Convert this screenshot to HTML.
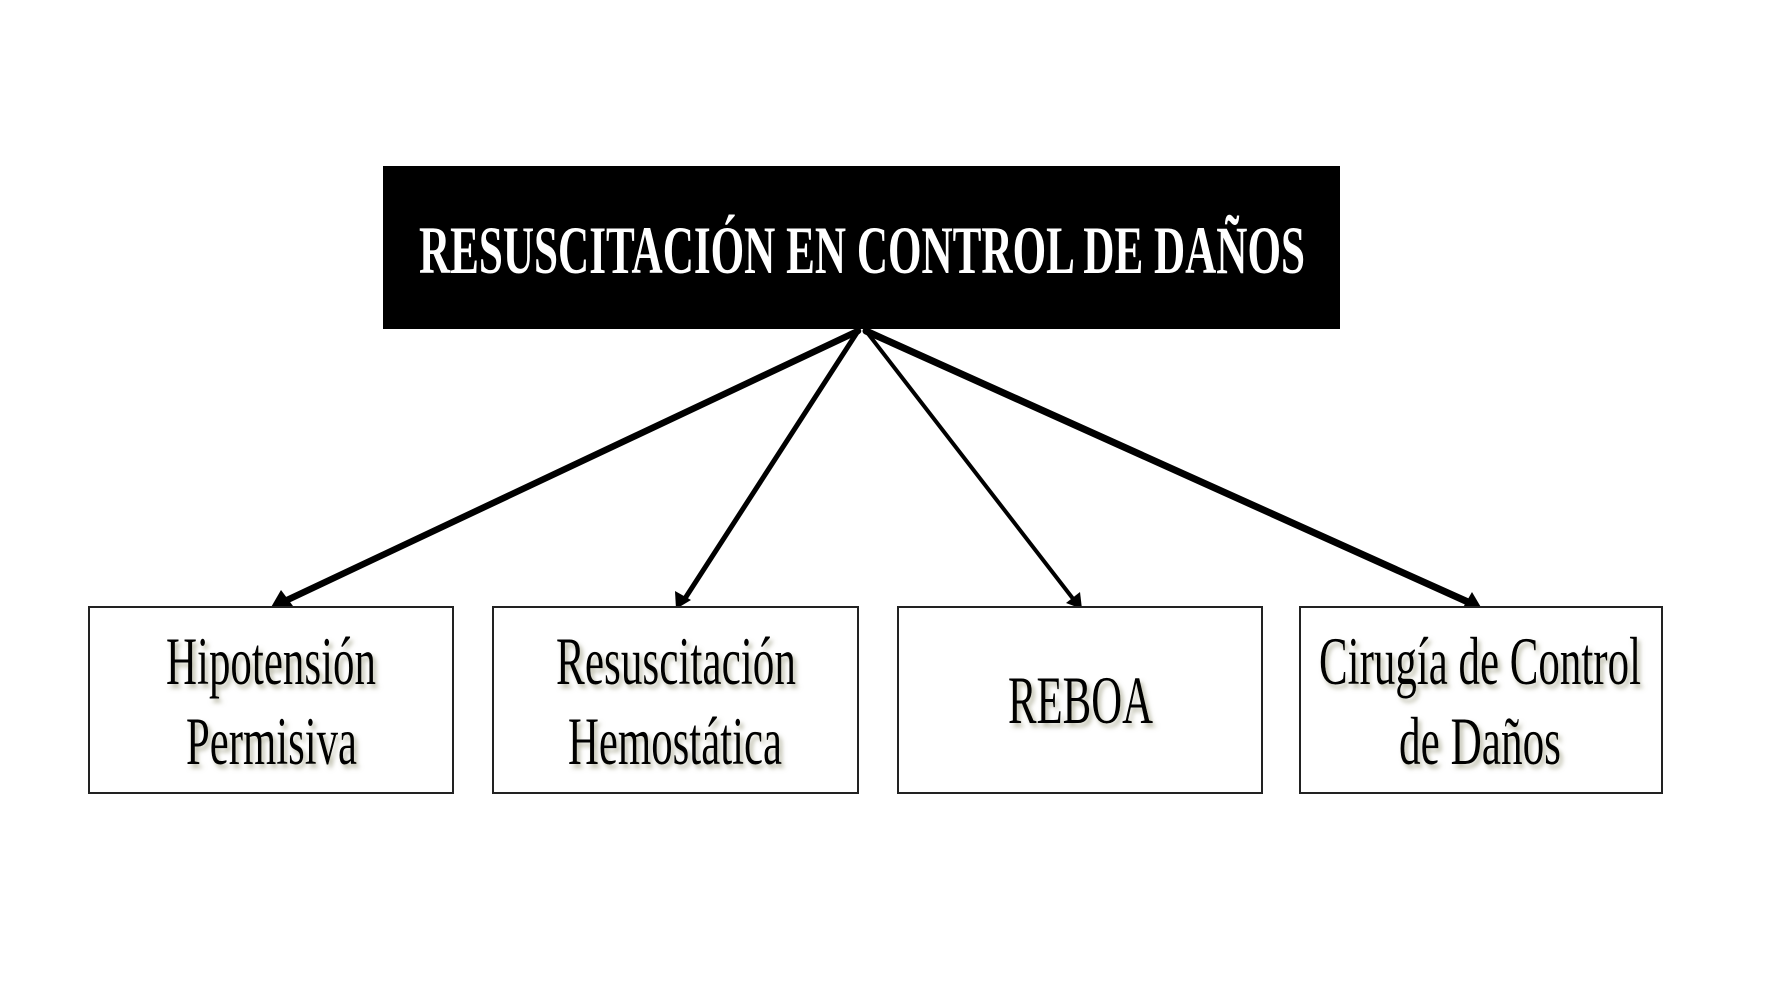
<!DOCTYPE html>
<html><head><meta charset="utf-8"><style>html,body{margin:0;padding:0;background:#fff}svg{display:block}</style></head>
<body>
<svg width="1772" height="997" viewBox="0 0 1772 997" xmlns="http://www.w3.org/2000/svg">
<defs>
<filter id="sh" x="-10%" y="-10%" width="120%" height="130%">
<feGaussianBlur in="SourceAlpha" stdDeviation="2.5"/>
<feOffset dx="3" dy="4" result="b"/>
<feFlood flood-color="#8a8a6a" flood-opacity="0.6"/>
<feComposite in2="b" operator="in"/>
<feMerge><feMergeNode/><feMergeNode in="SourceGraphic"/></feMerge>
</filter>
</defs>
<rect x="383" y="166" width="957" height="163" fill="#000"/>
<text x="419" y="273" textLength="886" lengthAdjust="spacingAndGlyphs" font-family="Liberation Serif, serif" font-weight="bold" font-size="68" fill="#fff">RESUSCITACIÓN EN CONTROL DE DAÑOS</text>
<g stroke="#000" fill="none" stroke-linecap="round">
<line x1="858" y1="331" x2="283" y2="602" stroke-width="6.5"/>
<line x1="858" y1="331" x2="684" y2="600" stroke-width="5"/>
<line x1="866" y1="331" x2="1074" y2="600" stroke-width="4"/>
<line x1="866" y1="331" x2="1468" y2="602" stroke-width="7"/>
</g>
<g fill="#000">
<polygon points="270,609 281,590 293,606"/>
<polygon points="676,609 675,591 691,600"/>
<polygon points="1082,609 1066,603 1080,592"/>
<polygon points="1482,609 1461,611 1472,592"/>
</g>
<g fill="#fff" stroke="#222" stroke-width="2">
<rect x="89" y="607" width="364" height="186"/>
<rect x="493" y="607" width="365" height="186"/>
<rect x="898" y="607" width="364" height="186"/>
<rect x="1300" y="607" width="362" height="186"/>
</g>
<g font-family="Liberation Serif, serif" font-size="68" fill="#000" filter="url(#sh)">
<text x="166" y="684" textLength="210" lengthAdjust="spacingAndGlyphs">Hipotensión</text>
<text x="186" y="764" textLength="171" lengthAdjust="spacingAndGlyphs">Permisiva</text>
<text x="556" y="684" textLength="240" lengthAdjust="spacingAndGlyphs">Resuscitación</text>
<text x="568" y="764" textLength="214" lengthAdjust="spacingAndGlyphs">Hemostática</text>
<text x="1008" y="723" textLength="145" lengthAdjust="spacingAndGlyphs">REBOA</text>
<text x="1319" y="684" textLength="322" lengthAdjust="spacingAndGlyphs">Cirugía de Control</text>
<text x="1399" y="764" textLength="162" lengthAdjust="spacingAndGlyphs">de Daños</text>
</g>
</svg>
</body></html>
